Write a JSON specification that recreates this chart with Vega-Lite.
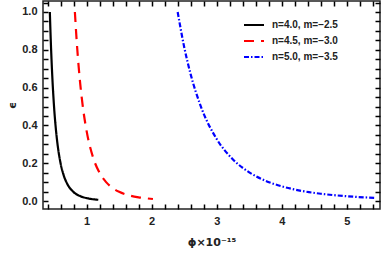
{
  "$schema": "https://vega.github.io/schema/vega-lite/v6.json",
  "width": 337,
  "height": 208,
  "autosize": {"type": "none"},
  "padding": {"left": 43, "top": 1, "right": 2, "bottom": 44},
  "data": {"values": [
    {"phi": 0.435, "eps": 1.0, "s": "n=4.0, m=−2.5"},
    {"phi": 0.45, "eps": 0.844, "s": "n=4.0, m=−2.5"},
    {"phi": 0.47, "eps": 0.679, "s": "n=4.0, m=−2.5"},
    {"phi": 0.5, "eps": 0.498, "s": "n=4.0, m=−2.5"},
    {"phi": 0.53, "eps": 0.373, "s": "n=4.0, m=−2.5"},
    {"phi": 0.56, "eps": 0.283, "s": "n=4.0, m=−2.5"},
    {"phi": 0.6, "eps": 0.200, "s": "n=4.0, m=−2.5"},
    {"phi": 0.65, "eps": 0.134, "s": "n=4.0, m=−2.5"},
    {"phi": 0.7, "eps": 0.093, "s": "n=4.0, m=−2.5"},
    {"phi": 0.8, "eps": 0.0475, "s": "n=4.0, m=−2.5"},
    {"phi": 0.9, "eps": 0.0264, "s": "n=4.0, m=−2.5"},
    {"phi": 1.0, "eps": 0.0156, "s": "n=4.0, m=−2.5"},
    {"phi": 1.1, "eps": 0.0097, "s": "n=4.0, m=−2.5"},
    {"phi": 1.18, "eps": 0.0068, "s": "n=4.0, m=−2.5"},
    {"phi": 0.82, "eps": 1.0, "s": "n=4.5, m=−3.0"},
    {"phi": 0.85, "eps": 0.836, "s": "n=4.5, m=−3.0"},
    {"phi": 0.9, "eps": 0.628, "s": "n=4.5, m=−3.0"},
    {"phi": 0.95, "eps": 0.479, "s": "n=4.5, m=−3.0"},
    {"phi": 1.0, "eps": 0.371, "s": "n=4.5, m=−3.0"},
    {"phi": 1.1, "eps": 0.230, "s": "n=4.5, m=−3.0"},
    {"phi": 1.2, "eps": 0.149, "s": "n=4.5, m=−3.0"},
    {"phi": 1.3, "eps": 0.100, "s": "n=4.5, m=−3.0"},
    {"phi": 1.4, "eps": 0.069, "s": "n=4.5, m=−3.0"},
    {"phi": 1.5, "eps": 0.0488, "s": "n=4.5, m=−3.0"},
    {"phi": 1.65, "eps": 0.0303, "s": "n=4.5, m=−3.0"},
    {"phi": 1.8, "eps": 0.0196, "s": "n=4.5, m=−3.0"},
    {"phi": 2.02, "eps": 0.011, "s": "n=4.5, m=−3.0"},
    {"phi": 2.4, "eps": 1.0, "s": "n=5.0, m=−3.5"},
    {"phi": 2.5, "eps": 0.815, "s": "n=5.0, m=−3.5"},
    {"phi": 2.6, "eps": 0.670, "s": "n=5.0, m=−3.5"},
    {"phi": 2.75, "eps": 0.506, "s": "n=5.0, m=−3.5"},
    {"phi": 3.0, "eps": 0.328, "s": "n=5.0, m=−3.5"},
    {"phi": 3.25, "eps": 0.220, "s": "n=5.0, m=−3.5"},
    {"phi": 3.5, "eps": 0.152, "s": "n=5.0, m=−3.5"},
    {"phi": 3.75, "eps": 0.107, "s": "n=5.0, m=−3.5"},
    {"phi": 4.0, "eps": 0.078, "s": "n=5.0, m=−3.5"},
    {"phi": 4.3, "eps": 0.054, "s": "n=5.0, m=−3.5"},
    {"phi": 4.6, "eps": 0.0387, "s": "n=5.0, m=−3.5"},
    {"phi": 5.0, "eps": 0.0255, "s": "n=5.0, m=−3.5"},
    {"phi": 5.43, "eps": 0.0169, "s": "n=5.0, m=−3.5"}
  ]},
  "layer": [
    {
      "mark": {"type": "line", "strokeWidth": 2.2, "interpolate": "monotone", "clip": true},
      "encoding": {
        "x": {"field": "phi", "type": "quantitative",
          "scale": {"domain": [0.33, 5.51], "nice": false, "zero": false},
          "axis": {"title": "ϕ×10⁻¹⁵", "orient": "bottom", "offset": -5, "tickSize": 5, "tickColor": "#000000", "tickWidth": 1.5,
            "values": [0.4,0.6,0.8,1,1.2,1.4,1.6,1.8,2,2.2,2.4,2.6,2.8,3,3.2,3.4,3.6,3.8,4,4.2,4.4,4.6,4.8,5,5.2,5.4],
            "labelExpr": "abs(datum.value - round(datum.value)) < 0.001 ? format(datum.value, 'd') : ''",
            "labelPadding": 6, "titlePadding": 10}},
        "y": {"field": "eps", "type": "quantitative",
          "scale": {"domain": [-0.042, 1.058], "nice": false, "zero": false},
          "axis": {"title": "ϵ", "orient": "left", "offset": -5, "tickSize": 5, "tickColor": "#000000", "tickWidth": 1.5,
            "values": [0,0.05,0.1,0.15,0.2,0.25,0.3,0.35,0.4,0.45,0.5,0.55,0.6,0.65,0.7,0.75,0.8,0.85,0.9,0.95,1.0,1.05],
            "labelExpr": "abs(datum.value*5 - round(datum.value*5)) < 0.001 ? format(datum.value, '.1f') : ''",
            "labelPadding": 6, "titlePadding": 4}},
        "color": {"field": "s", "type": "nominal", "title": null,
          "scale": {"domain": ["n=4.0, m=−2.5", "n=4.5, m=−3.0", "n=5.0, m=−3.5"], "range": ["#000000", "#ff0000", "#0000ff"]},
          "legend": {"orient": "none", "legendX": 200, "legendY": 13}},
        "strokeDash": {"field": "s", "type": "nominal", "title": null,
          "scale": {"domain": ["n=4.0, m=−2.5", "n=4.5, m=−3.0", "n=5.0, m=−3.5"], "range": [[1, 0], [10, 7], [5, 2, 1.5, 2]]},
          "legend": {"orient": "none", "legendX": 200, "legendY": 13}}
      }
    },
    {
      "mark": {"type": "point", "opacity": 0},
      "encoding": {
        "x": {"field": "phi", "type": "quantitative",
          "axis": {"title": null, "orient": "top", "labels": false, "offset": -5, "tickSize": 5, "tickColor": "#000000", "tickWidth": 1.5,
            "values": [0.4,0.6,0.8,1,1.2,1.4,1.6,1.8,2,2.2,2.4,2.6,2.8,3,3.2,3.4,3.6,3.8,4,4.2,4.4,4.6,4.8,5,5.2,5.4]}},
        "y": {"field": "eps", "type": "quantitative",
          "axis": {"title": null, "orient": "right", "labels": false, "offset": -5, "tickSize": 5, "tickColor": "#000000", "tickWidth": 1.5,
            "values": [0,0.05,0.1,0.15,0.2,0.25,0.3,0.35,0.4,0.45,0.5,0.55,0.6,0.65,0.7,0.75,0.8,0.85,0.9,0.95,1.0,1.05]}}
      }
    }
  ],
  "resolve": {"axis": {"x": "independent", "y": "independent"}},
  "config": {
    "font": "Liberation Sans",
    "view": {"stroke": "#222222", "strokeWidth": 1.5},
    "axis": {"grid": false, "domain": false,
      "labelFont": "Liberation Sans", "labelFontWeight": "bold", "labelFontSize": 11, "labelColor": "#222222",
      "labelOverlap": false, "labelFlush": false,
      "titleFont": "DejaVu Sans", "titleFontWeight": "bold", "titleFontSize": 11, "titleColor": "#222222"},
    "legend": {"labelFont": "Liberation Sans", "labelFontWeight": "bold", "labelFontSize": 10, "labelColor": "#222222",
      "symbolType": "stroke", "symbolSize": 400, "symbolStrokeWidth": 2, "labelOffset": 7, "rowPadding": 0}
  }
}
